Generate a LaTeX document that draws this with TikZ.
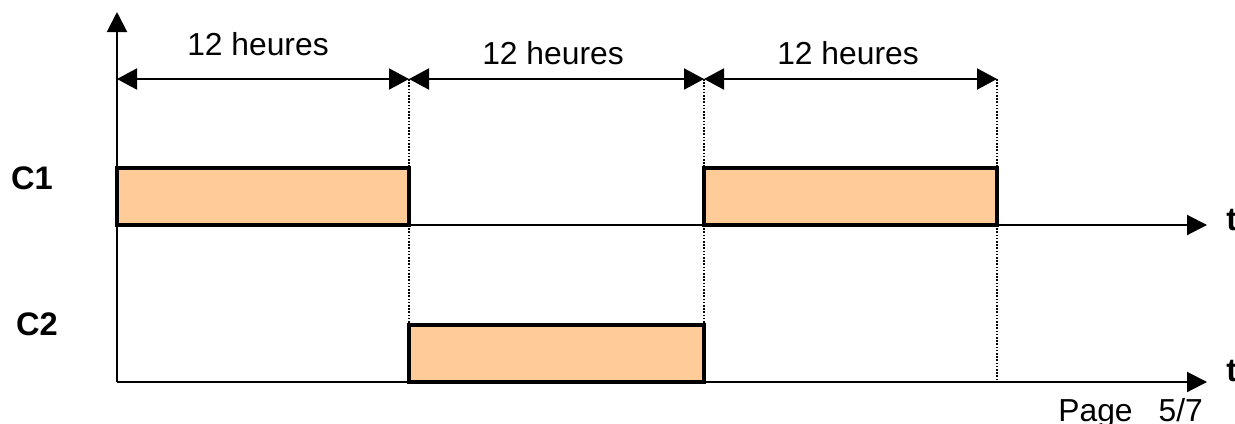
\documentclass[tikz,border=0pt]{standalone}
\usepackage{fontspec}
\setmainfont{Liberation Sans}
\usetikzlibrary{arrows.meta}
\definecolor{boxfill}{RGB}{255,204,153}
\begin{document}
\begin{tikzpicture}[x=0.5pt,y=-0.5pt,
  axis/.style={line width=1pt,-{Triangle[length=10pt,width=10pt]}},
  dim/.style={line width=1pt,{Triangle[length=10pt,width=10.5pt]}-{Triangle[length=10pt,width=10.5pt]}},
  guide/.style={line width=0.7pt,dash pattern=on 0.8pt off 0.8pt},
  pulse/.style={draw=black,line width=1.8pt,fill=boxfill},
  lbl/.style={font=\fontsize{15.9}{19}\selectfont,inner sep=0pt,anchor=base},
  sig/.style={font=\fontsize{16.3}{19}\selectfont\bfseries,inner sep=0pt,anchor=base}]
\useasboundingbox (0,0) rectangle (1235,423);
% coordinates
\coordinate (o) at (117,382);
\coordinate (ytop) at (117,12);
\coordinate (o1) at (117,225);
\coordinate (t1end) at (1207,225);
\coordinate (t2end) at (1207,382);
\coordinate (d0) at (117,79);
\coordinate (d1) at (409,79);
\coordinate (d2) at (704,79);
\coordinate (d3) at (997,79);
% pulses
\draw[pulse] (117,168) rectangle (409,225) node[pos=0.5] (p1) {};
\draw[pulse] (704,168) rectangle (997,225) node[pos=0.5] (p3) {};
\draw[pulse] (409,325) rectangle (704,382) node[pos=0.5] (p2) {};
\coordinate (p1tr) at (409,168);
\coordinate (p1br) at (409,225);
\coordinate (p2tl) at (409,325);
\coordinate (p2tr) at (704,325);
\coordinate (p3tl) at (704,168);
\coordinate (p3bl) at (704,225);
\coordinate (p3tr) at (997,168);
\coordinate (p3br) at (997,225);
\coordinate (b3) at (997,382);
% guides
\draw[guide] (d1) -- (p1tr);
\draw[guide] (p1br) -- (p2tl);
\draw[guide] (d2) -- (p3tl);
\draw[guide] (p3bl) -- (p2tr);
\draw[guide] (d3) -- (p3tr);
\draw[guide] (p3br) -- (b3);
% axes
\draw[axis] (o) -- (ytop);
\draw[axis] (o1) -- (t1end);
\draw[axis] (o) -- (t2end);
% dimension arrows
\draw[dim] (d0) -- (d1);
\draw[dim] (d1) -- (d2);
\draw[dim] (d2) -- (d3);
% labels
\node[lbl] (h1) at (258,55) {12 heures};
\node[lbl] (h2) at (553,64) {12 heures};
\node[lbl] (h3) at (848,64) {12 heures};
\node[sig] (c1) at (32,189) {C1};
\node[sig] (c2) at (37,335) {C2};
\node[sig,anchor=base west] (ta) at (1226,230) {t};
\node[sig,anchor=base west] (tb) at (1226,381) {t};
\node[lbl,anchor=base west] (pg) at (1058,421) {Page\hspace{13pt}5/7};
\end{tikzpicture}
\end{document}
